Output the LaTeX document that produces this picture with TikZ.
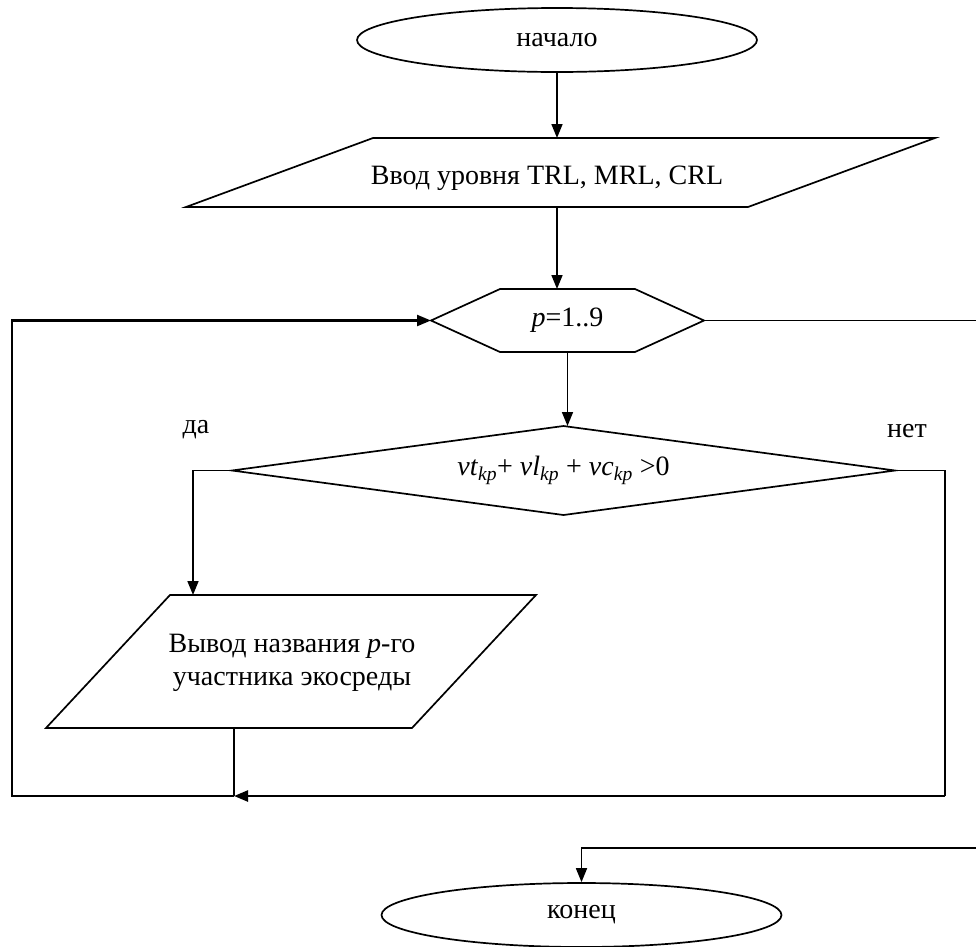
\documentclass[tikz,border=0pt]{standalone}
\usepackage{fontspec}
\setmainfont{Liberation Serif}
\usetikzlibrary{arrows.meta,shapes.geometric,calc}
\begin{document}
\begin{tikzpicture}[x=1pt,y=-1pt,
  line/.style={line width=1.7pt},
  thick line/.style={line width=2.3pt},
  arr/.style={line, -{Triangle[length=14pt,width=11pt]}},
  thickarr/.style={thick line, -{Triangle[length=14pt,width=11pt]}},
  term/.style={ellipse, draw, line width=1.7pt, minimum width=400pt, minimum height=64pt, inner sep=0pt},
  box/.style={inner sep=0pt, outer sep=0pt},
  lbl/.style={inner sep=0pt, align=center},
  font=\fontsize{28pt}{33pt}\selectfont]
\useasboundingbox (0,0) rectangle (976,946);

% terminals
\node[term] (start) at (557,40) {начало};
\node[term] (end) at (581.5,915) {конец};

% input parallelogram
\node[box, minimum width=749pt, minimum height=69pt] (inp) at (560.5,172.5) {};
\draw[line] (inp.south west) -- ($(inp.north west)+(187,0)$) -- (inp.north east)
  -- ($(inp.south east)-(187,0)$) -- cycle;
\node[lbl] (inptxt) at (547,178) {Ввод уровня TRL, MRL, CRL};

% loop hexagon
\node[box, minimum width=273pt, minimum height=63pt] (loop) at (567.5,320.5) {\textit{p}=1..9};
\draw[line] (loop.west) -- ($(loop.north west)+(69,0)$) -- ($(loop.north east)-(69,0)$)
  -- (loop.east) -- ($(loop.south east)-(69,0)$) -- ($(loop.south west)+(69,0)$) -- cycle;

% condition diamond
\node[box, minimum width=663pt, minimum height=89pt] (cond) at (563.5,470.5)
  {\textit{vt}\textsubscript{\textit{kp}}+ \textit{vl}\textsubscript{\textit{kp}} + \textit{vc}\textsubscript{\textit{kp}} >0};
\draw[line] (cond.west) -- (cond.north) -- (cond.east) -- (cond.south) -- cycle;

% output parallelogram
\node[box, minimum width=490pt, minimum height=133pt] (out) at (291,661.5) {};
\draw[line] (out.south west) -- ($(out.north west)+(124,0)$) -- (out.north east)
  -- ($(out.south east)-(124,0)$) -- cycle;
\node[lbl] (outtxt) at (292,663) {Вывод названия \textit{p}-го\\участника экосреды};

% labels
\node[lbl] (yes) at (196,430) {да};
\node[lbl] (no) at (907,431) {нет};

% helper coordinates
\coordinate (yesX) at (193,470.5);
\coordinate (noR) at (945,796);
\coordinate (merge) at (234,796);
\coordinate (loopL) at (12,796);
\coordinate (exitTop) at (976,320.5);
\coordinate (exitBot) at (976,848);

% connectors
\draw[arr] (start.south) -- (start.south |- inp.north);
\draw[arr] (start.south |- inp.south) -- (start.south |- loop.north);
\draw[arr] (loop.south) -- (loop.south |- cond.north);
\draw[arr] (cond.west) -- (yesX) -- (yesX |- out.north);
\draw[line] (cond.east) -- (noR |- cond.east) -- (noR);
\draw[thickarr] (noR) -- (merge);
\draw[line] (out.south -| merge) -- (merge);
\draw[thickarr] (merge) -- (loopL) -- (loopL |- loop.west) -- (loop.west);
\draw[line] (loop.east) -- (exitTop);
\draw[arr] (exitBot) -- (exitBot -| end.north) -- (end.north);
\end{tikzpicture}
\end{document}
